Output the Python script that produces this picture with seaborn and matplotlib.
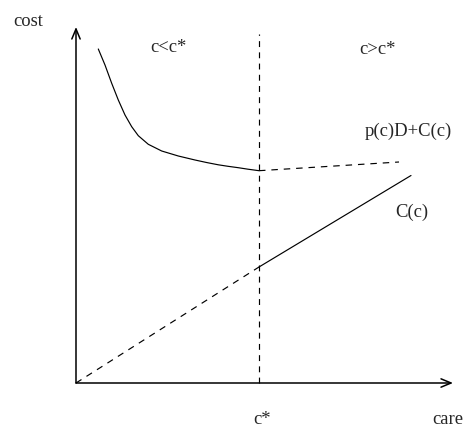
import matplotlib
matplotlib.use("Agg")
import matplotlib.pyplot as plt
import seaborn as sns
import pandas as pd

sns.set_theme(style="white")
plt.rcParams['font.family'] = ['Liberation Serif', 'DejaVu Serif']

# total cost curve p(c)D + C(c), part left of c*
care_left = [22.3, 29.0, 35.7, 42.3, 49.0, 55.7, 62.3, 72.3, 85.7, 102.3, 119.0, 131.0, 142.3, 152.0, 162.3, 172.0, 183.0]
cost_left = [334.0, 318.0, 299.7, 283.0, 268.0, 256.3, 247.3, 238.7, 232.0, 227.0, 223.0, 220.4, 218.2, 216.7, 215.3, 213.8, 212.3]
# continuation right of c*
care_right = [183.0, 323.0]
cost_right = [212.3, 221.0]
# precaution cost line C(c)
care_c_dash = [0.0, 183.0]
cost_c_dash = [0.0, 116.0]
care_c_solid = [183.0, 335.0]
cost_c_solid = [116.0, 207.5]
# optimal care
c_star = 183.0
vline_top = 349.0
x_axis_end = 377.0
y_axis_end = 356.0

labels = ["cost", "care", "c*", "c<c*", "c>c*", "p(c)D+C(c)", "C(c)"]

fig = plt.figure(figsize=(4.66, 4.26), dpi=100)
ax = fig.add_axes([0, 0, 1, 1])
ax.set_xlim(-76, 390)
ax.set_ylim(-43, 383)
ax.axis("off")

lw = 0.85
sns.lineplot(x=care_left, y=cost_left, ax=ax, color="black", lw=lw, sort=False, estimator=None)
sns.lineplot(x=care_right, y=cost_right, ax=ax, color="black", lw=lw, linestyle=(0, (5.5, 5)), sort=False, estimator=None)
sns.lineplot(x=care_c_dash, y=cost_c_dash, ax=ax, color="black", lw=lw, linestyle=(0, (5.5, 5)), sort=False, estimator=None)
sns.lineplot(x=care_c_solid, y=cost_c_solid, ax=ax, color="black", lw=lw, sort=False, estimator=None)
sns.lineplot(x=[c_star, c_star], y=[0, vline_top], ax=ax, color="black", lw=lw, linestyle=(0, (5, 4.5)), sort=False, estimator=None)

arrow = dict(arrowstyle="->,head_length=0.6,head_width=0.25", color="black", lw=1.1, shrinkA=0, shrinkB=0)
ax.annotate("", xy=(x_axis_end, 0), xytext=(0, 0), arrowprops=arrow)
ax.annotate("", xy=(0, y_axis_end), xytext=(0, 0), arrowprops=arrow)

fs = 13.4
ax.text(-48, 362, labels[0], fontsize=fs, ha="center", va="center")
ax.text(372, -40.5, labels[1], fontsize=fs, ha="center", va="baseline")
ax.text(186, -36, labels[2], fontsize=fs, ha="center", va="center")
ax.text(92, 336, labels[3], fontsize=fs, ha="center", va="center")
ax.text(301, 334, labels[4], fontsize=fs, ha="center", va="center")
ax.text(332, 252, labels[5], fontsize=fs, ha="center", va="center")
ax.text(336, 171, labels[6], fontsize=fs, ha="center", va="center")

fig.savefig("out.png", dpi=100)
